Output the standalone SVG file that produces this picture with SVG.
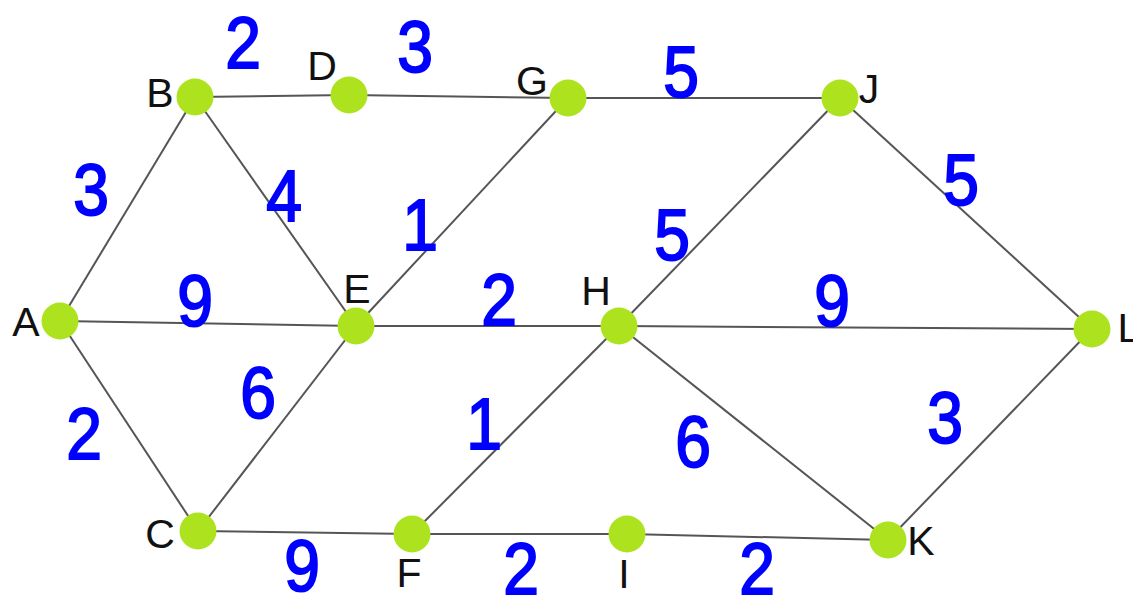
<svg xmlns="http://www.w3.org/2000/svg" width="1133" height="596" viewBox="0 0 1133 596">
<style>
.e{stroke:#555;stroke-width:2;fill:none}
.n{fill:#ade31e}
.l{font-family:"Liberation Sans",Arial,sans-serif;font-size:41px;fill:#111;text-anchor:middle}
.w{font-family:"Liberation Sans",Arial,sans-serif;font-size:73px;fill:#0000ff;stroke:#0000ff;stroke-width:2;text-anchor:middle}
</style>
<rect width="1133" height="596" fill="#fff"/>
<g id="connectors">
<line class="e" x1="60" y1="321" x2="195" y2="97"/>
<line class="e" x1="60" y1="321" x2="356" y2="326"/>
<line class="e" x1="60" y1="321" x2="198" y2="531"/>
<line class="e" x1="195" y1="97" x2="349" y2="95"/>
<line class="e" x1="349" y1="95" x2="568" y2="98"/>
<line class="e" x1="568" y1="98" x2="840" y2="98"/>
<line class="e" x1="195" y1="97" x2="356" y2="326"/>
<line class="e" x1="356" y1="326" x2="568" y2="98"/>
<line class="e" x1="198" y1="531" x2="356" y2="326"/>
<line class="e" x1="356" y1="326" x2="619" y2="326"/>
<line class="e" x1="198" y1="531" x2="412" y2="534"/>
<line class="e" x1="412" y1="534" x2="619" y2="326"/>
<line class="e" x1="412" y1="534" x2="627" y2="534"/>
<line class="e" x1="627" y1="534" x2="888" y2="540"/>
<line class="e" x1="619" y1="326" x2="840" y2="98"/>
<line class="e" x1="619" y1="326" x2="1092" y2="329"/>
<line class="e" x1="619" y1="326" x2="888" y2="540"/>
<line class="e" x1="840" y1="98" x2="1092" y2="329"/>
<line class="e" x1="888" y1="540" x2="1092" y2="329"/>
</g>
<g id="weights">
<text class="w" transform="translate(243,68) scale(0.88,1)">2</text>
<text class="w" transform="translate(415,72) scale(0.88,1)">3</text>
<text class="w" transform="translate(681,97) scale(0.88,1)">5</text>
<text class="w" transform="translate(91,215) scale(0.88,1)">3</text>
<text class="w" transform="translate(284,221) scale(0.88,1)">4</text>
<text class="w" transform="translate(420,250) scale(0.88,1)">1</text>
<text class="w" transform="translate(195,326) scale(0.88,1)">9</text>
<text class="w" transform="translate(258,418) scale(0.88,1)">6</text>
<text class="w" transform="translate(84,459) scale(0.88,1)">2</text>
<text class="w" transform="translate(302,591) scale(0.88,1)">9</text>
<text class="w" transform="translate(499,325) scale(0.88,1)">2</text>
<text class="w" transform="translate(484,449) scale(0.88,1)">1</text>
<text class="w" transform="translate(693,467) scale(0.88,1)">6</text>
<text class="w" transform="translate(521,594) scale(0.88,1)">2</text>
<text class="w" transform="translate(757,594) scale(0.88,1)">2</text>
<text class="w" transform="translate(832,326) scale(0.88,1)">9</text>
<text class="w" transform="translate(945,443) scale(0.88,1)">3</text>
<text class="w" transform="translate(672,260) scale(0.88,1)">5</text>
<text class="w" transform="translate(961,205) scale(0.88,1)">5</text>
</g>
<g id="A"><circle class="n" cx="60" cy="321" r="18.5"/><text class="l" x="26" y="336">A</text></g>
<g id="B"><circle class="n" cx="195" cy="97" r="18.5"/><text class="l" x="160" y="107">B</text></g>
<g id="C"><circle class="n" cx="198" cy="531" r="18.5"/><text class="l" x="160" y="548">C</text></g>
<g id="D"><circle class="n" cx="349" cy="95" r="18.5"/><text class="l" x="322" y="80">D</text></g>
<g id="E"><circle class="n" cx="356" cy="326" r="18.5"/><text class="l" x="357" y="303">E</text></g>
<g id="F"><circle class="n" cx="412" cy="534" r="18.5"/><text class="l" x="409" y="587">F</text></g>
<g id="G"><circle class="n" cx="568" cy="98" r="18.5"/><text class="l" x="532" y="95">G</text></g>
<g id="H"><circle class="n" cx="619" cy="326" r="18.5"/><text class="l" x="596" y="305">H</text></g>
<g id="I"><circle class="n" cx="627" cy="534" r="18.5"/><text class="l" x="624" y="588">I</text></g>
<g id="J"><circle class="n" cx="840" cy="98" r="18.5"/><text class="l" x="869" y="103">J</text></g>
<g id="K"><circle class="n" cx="888" cy="540" r="18.5"/><text class="l" x="921" y="555">K</text></g>
<g id="L"><circle class="n" cx="1092" cy="329" r="18.5"/><text class="l" x="1129" y="342">L</text></g>
</svg>
